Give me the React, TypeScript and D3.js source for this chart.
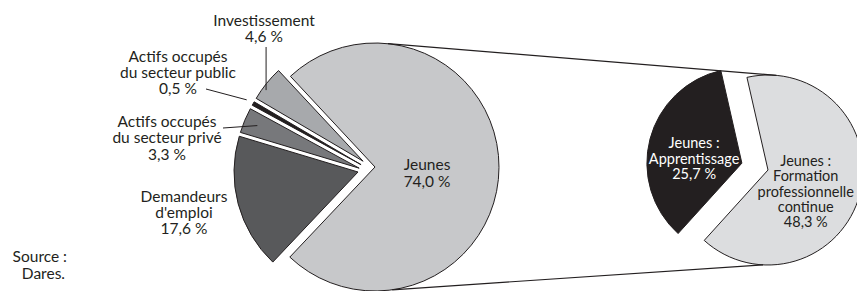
import * as d3 from 'd3';

// main pie: where the training money goes
const categories = [
  'Jeunes',
  "Demandeurs d'emploi",
  'Actifs occupés du secteur privé',
  'Actifs occupés du secteur public',
  'Investissement',
];
const shares = [74.0, 17.6, 3.3, 0.5, 4.6];
const labelLines = [
  ['Jeunes'],
  ['Demandeurs', "d'emploi"],
  ['Actifs occupés', 'du secteur privé'],
  ['Actifs occupés', 'du secteur public'],
  ['Investissement'],
];

// secondary pie: split of the "Jeunes" slice
const youthCategories = ['Jeunes : Formation professionnelle continue', 'Jeunes : Apprentissage'];
const youthShares = [48.3, 25.7];
const youthLabelLines = [
  ['Jeunes :', 'Formation', 'professionnelle', 'continue'],
  ['Jeunes :', 'Apprentissage'],
];

const sourceLines = ['Source :', 'Dares.'];

const mainColors = ['#c7c8ca', '#58595b', '#77787b', '#231f20', '#a7a9ac'];
const youthColors = ['#dcdddf', '#231f20'];
const ink = '#231f20';

const width = 857;
const height = 291;
const font = 'Lato, "Open Sans", sans-serif';

const rad = (deg: number) => (deg * Math.PI) / 180;
const polar = (a: number, r: number): [number, number] => [r * Math.sin(a), -r * Math.cos(a)];

const fr = d3.formatLocale({ decimal: ',', thousands: ' ', grouping: [3], currency: ['', ' €'] });
const pct = (v: number) => `${fr.format('.1f')(v)} %`;

export default function App() {
  // main pie geometry
  const R = 124;
  const cx = 375;
  const cy = 167;
  const gap = 4;
  const start = rad(-43);
  const arcs = d3
    .pie<number>()
    .sort(null)
    .startAngle(start)
    .endAngle(start + 2 * Math.PI)(shares);
  const arcGen = d3.arc<d3.PieArcDatum<number>>().innerRadius(0).outerRadius(R);

  // non-youth slices pulled out as a group, separated by white bands
  const offsets: [number, number][] = [];
  arcs.forEach((a, i) => {
    if (i === 0) offsets.push([0, 0]);
    else if (i === 1) offsets.push([-17, 5]);
    else {
      const p = offsets[i - 1];
      offsets.push([p[0] + gap * Math.cos(a.startAngle), p[1] + gap * Math.sin(a.startAngle)]);
    }
  });

  // secondary pie geometry
  const r2 = 95;
  const cx2 = 768;
  const cy2 = 170;
  const start2 = rad(-12.8);
  const arcs2 = d3
    .pie<number>()
    .sort(null)
    .startAngle(start2)
    .endAngle(start2 + 2 * Math.PI)(youthShares);
  const arcGen2 = d3.arc<d3.PieArcDatum<number>>().innerRadius(0).outerRadius(r2);
  const explode2 = [0, 27];
  const offsets2 = arcs2.map((a, i) => polar((a.startAngle + a.endAngle) / 2, explode2[i]));

  // connector lines between the two pies
  const topA = polar(rad(6), R);
  const topB = polar(rad(5), r2);
  const botA = polar(rad(172), R);
  const botB = polar(rad(183), r2);

  // outside labels of the main pie (layout)
  const outside: Record<number, { x: number; y: number; lh: number; from?: [number, number]; t?: number; rr?: number }> = {
    1: { x: 184, y: 201.5, lh: 16.3 },
    2: { x: 167, y: 127, lh: 16.3, from: [223, 128], t: 0.5, rr: 0.89 },
    3: { x: 178, y: 61.5, lh: 16.3, from: [206, 89], t: 0.5, rr: 1.06 },
    4: { x: 264, y: 26, lh: 16.3, from: [0, 47], t: 0.35, rr: 0.97 },
  };

  const mainSlices = arcs.map((a, i) => {
    const [ox, oy] = offsets[i];
    return (
      <path
        key={categories[i]}
        d={arcGen(a) || ''}
        transform={`translate(${cx + ox},${cy + oy})`}
        fill={mainColors[i]}
        stroke={ink}
        strokeWidth={1}
        strokeLinejoin="miter"
      />
    );
  });

  const mainLabels = arcs.map((a, i) => {
    const lines = [...labelLines[i], pct(shares[i])];
    if (i === 0) {
      const [lx, ly] = polar((a.startAngle + a.endAngle) / 2, R * 0.42);
      return (
        <text key={categories[i]} x={cx + lx} y={cy + ly + 3} textAnchor="middle" fill={ink}>
          {lines.map((l, j) => (
            <tspan key={j} x={cx + lx} dy={j === 0 ? 0 : 16.5}>
              {l}
            </tspan>
          ))}
        </text>
      );
    }
    const o = outside[i];
    let leader = null;
    if (o.from) {
      const [ox, oy] = offsets[i];
      const ang = a.startAngle + (a.endAngle - a.startAngle) * (o.t || 0.5);
      const [px, py] = polar(ang, R * (o.rr || 1));
      const ex = cx + ox + px;
      const ey = cy + oy + py;
      const sx = i === 4 ? ex : o.from[0];
      leader = <line x1={sx} y1={o.from[1]} x2={ex} y2={ey} stroke={ink} strokeWidth={1} />;
    }
    return (
      <g key={categories[i]}>
        <text x={o.x} y={o.y} textAnchor="middle" fill={ink}>
          {lines.map((l, j) => (
            <tspan key={j} x={o.x} dy={j === 0 ? 0 : o.lh}>
              {l}
            </tspan>
          ))}
        </text>
        {leader}
      </g>
    );
  });

  const youthSlices = arcs2.map((a, i) => {
    const [ox, oy] = offsets2[i];
    return (
      <path
        key={youthCategories[i]}
        d={arcGen2(a) || ''}
        transform={`translate(${cx2 + ox},${cy2 + oy})`}
        fill={youthColors[i]}
        stroke={ink}
        strokeWidth={1}
      />
    );
  });

  // label placement inside the secondary slices
  const youthLabelPos = [
    { r: 0.4, dy: 13, lh: 15.4, shift: 1 },
    { r: 0.52, dy: 9, lh: 15.4, shift: 0 },
  ];
  const youthLabels = arcs2.map((a, i) => {
    const [ox, oy] = offsets2[i];
    const p = youthLabelPos[i];
    const [lx, ly] = polar((a.startAngle + a.endAngle) / 2, r2 * p.r);
    const lines = [...youthLabelLines[i], pct(youthShares[i])];
    const x = cx2 + ox + lx + p.shift;
    const y0 = cy2 + oy + ly + p.dy - ((lines.length - 1) / 2) * p.lh + 4;
    return (
      <text key={youthCategories[i]} x={x} y={y0} textAnchor="middle" fontSize={14.5} fill={i === 1 ? '#ffffff' : ink}>
        {lines.map((l, j) => (
          <tspan key={j} x={x} dy={j === 0 ? 0 : p.lh}>
            {l}
          </tspan>
        ))}
      </text>
    );
  });

  return (
    <svg
      width={width}
      height={height}
      style={{ position: 'absolute', left: 0, top: 0, background: '#ffffff' }}
      fontFamily={font}
      fontSize={15.5}
    >
      {mainSlices}
      {youthSlices}
      <line x1={cx + topA[0]} y1={cy + topA[1]} x2={cx2 + topB[0]} y2={cy2 + topB[1]} stroke={ink} strokeWidth={1.2} />
      <line x1={cx + botA[0]} y1={cy + botA[1]} x2={cx2 + botB[0]} y2={cy2 + botB[1]} stroke={ink} strokeWidth={1.2} />
      {mainLabels}
      {youthLabels}
      <text x={67} y={261.5} textAnchor="end" fill={ink}>
        {sourceLines.map((l, j) => (
          <tspan key={j} x={j === 0 ? 67 : 65} dy={j === 0 ? 0 : 17.5}>
            {l}
          </tspan>
        ))}
      </text>
    </svg>
  );
}
